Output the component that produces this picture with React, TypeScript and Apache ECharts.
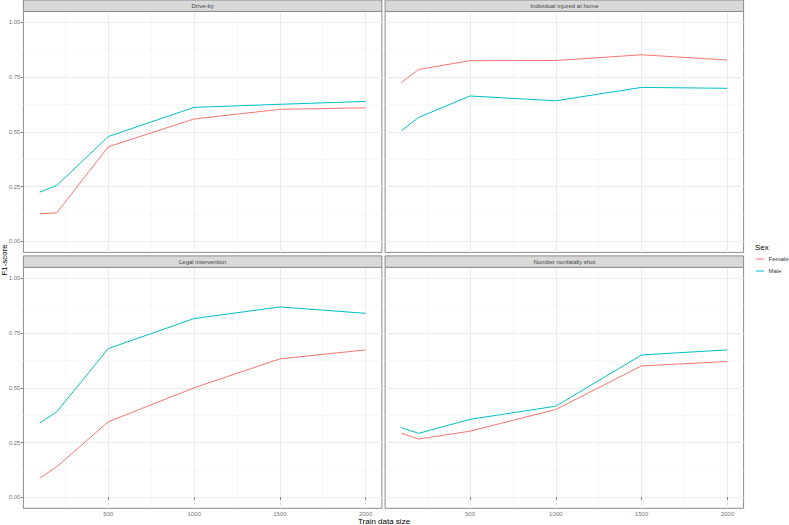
import React, { useEffect, useRef } from "react";
import * as echarts from "echarts";

const trainSizes = [100, 200, 500, 1000, 1500, 2000];
const facets = ["Drive-by", "Individual injured at home", "Legal intervention", "Number nonfatally shot"];
const sexes = ["Female", "Male"];
const sexColors = ["#F8766D", "#00BFC4"];
const driveByFemale = [0.126, 0.131, 0.432, 0.559, 0.603, 0.61];
const driveByMale = [0.225, 0.256, 0.479, 0.612, 0.626, 0.639];
const injuredHomeFemale = [0.725, 0.785, 0.825, 0.826, 0.852, 0.828];
const injuredHomeMale = [0.505, 0.566, 0.664, 0.642, 0.703, 0.699];
const legalFemale = [0.087, 0.14, 0.345, 0.5, 0.632, 0.673];
const legalMale = [0.339, 0.391, 0.679, 0.816, 0.869, 0.84];
const nonfatalFemale = [0.293, 0.266, 0.302, 0.401, 0.6, 0.62];
const nonfatalMale = [0.318, 0.292, 0.356, 0.416, 0.65, 0.673];
const xTicks = [500, 1000, 1500, 2000];
const xMinorTicks = [250, 750, 1250, 1750];
const yTicks = [0, 0.25, 0.5, 0.75, 1];
const yMinorTicks = [0.125, 0.375, 0.625, 0.875];
const xRange = [5, 2095];
const yRange = [-0.05, 1.05];

const panelData = [
  [driveByFemale, driveByMale],
  [injuredHomeFemale, injuredHomeMale],
  [legalFemale, legalMale],
  [nonfatalFemale, nonfatalMale],
];

const FONT = "Liberation Sans, Arial, Helvetica, sans-serif";

export default function App() {
  const ref = useRef<HTMLDivElement>(null);
  useEffect(() => {
    document.body.style.margin = "0";
    if (!ref.current) return;
    const chart = echarts.init(ref.current, null, { renderer: "svg" });
    const lefts = [23.4, 385.1];
    const tops = [11.4, 267.3];
    const W = 358.5;
    const H = 241;
    const stripH = 11.4;

    const grids: any[] = [];
    const xAxes: any[] = [];
    const yAxes: any[] = [];
    const series: any[] = [];
    const graphics: any[] = [];

    for (let i = 0; i < 4; i++) {
      const col = i % 2;
      const row = Math.floor(i / 2);
      const left = lefts[col];
      const top = tops[row];
      grids.push({
        left,
        top,
        width: W,
        height: H,
        show: true,
        backgroundColor: "#ffffff",
        borderColor: "#8a8a8a",
        borderWidth: 1,
        containLabel: false,
      });
      graphics.push({
        type: "rect",
        shape: { x: left, y: top - stripH, width: W, height: stripH },
        style: { fill: "#d9d9d9", stroke: "#8a8a8a", lineWidth: 1 },
        z: 10,
      });
      graphics.push({
        type: "text",
        x: left + W / 2,
        y: top - stripH / 2,
        style: {
          text: facets[i],
          fill: "#444444",
          font: `6px ${FONT}`,
          textAlign: "center",
          textVerticalAlign: "middle",
        },
        z: 11,
      });
    }

    for (let i = 0; i < 4; i++) {
      const col = i % 2;
      const row = Math.floor(i / 2);
      const showX = row === 1;
      const showY = col === 0;
      xAxes.push({
        type: "value",
        gridIndex: i,
        min: xRange[0],
        max: xRange[1],
        axisLine: { show: false },
        axisTick: {
          show: showX,
          customValues: xTicks,
          length: 2.5,
          lineStyle: { color: "#555555", width: 0.8 },
        },
        axisLabel: {
          show: showX,
          customValues: xTicks,
          color: "#777777",
          fontSize: 6,
          fontFamily: FONT,
          margin: 3,
          formatter: (v: number) => String(v),
        },
        splitLine: { show: true, lineStyle: { color: "#ebebeb", width: 1 } },
      });
      yAxes.push({
        type: "value",
        gridIndex: i,
        min: yRange[0],
        max: yRange[1],
        axisLine: { show: false },
        axisTick: {
          show: showY,
          customValues: yTicks,
          length: 2.5,
          lineStyle: { color: "#555555", width: 0.8 },
        },
        axisLabel: {
          show: showY,
          customValues: yTicks,
          color: "#777777",
          fontSize: 6,
          fontFamily: FONT,
          margin: 3,
          formatter: (v: number) => v.toFixed(2),
        },
        splitLine: { show: true, lineStyle: { color: "#ebebeb", width: 1 } },
      });
    }
    for (let i = 0; i < 4; i++) {
      xAxes.push({
        type: "value",
        gridIndex: i,
        min: xRange[0],
        max: xRange[1],
        axisLine: { show: false },
        axisTick: { show: false, customValues: xMinorTicks },
        axisLabel: { show: false, customValues: xMinorTicks },
        splitLine: { show: true, lineStyle: { color: "#f4f4f4", width: 0.6 } },
      });
      yAxes.push({
        type: "value",
        gridIndex: i,
        min: yRange[0],
        max: yRange[1],
        axisLine: { show: false },
        axisTick: { show: false, customValues: yMinorTicks },
        axisLabel: { show: false, customValues: yMinorTicks },
        splitLine: { show: true, lineStyle: { color: "#f4f4f4", width: 0.6 } },
      });
    }

    for (let i = 0; i < 4; i++) {
      for (let s = 0; s < 2; s++) {
        series.push({
          type: "line",
          name: sexes[s],
          xAxisIndex: i,
          yAxisIndex: i,
          showSymbol: false,
          symbol: "none",
          data: trainSizes.map((x, j) => [x, panelData[i][s][j]]),
          lineStyle: { color: sexColors[s], width: 1 },
          itemStyle: { color: sexColors[s] },
          z: 5,
        });
      }
    }

    graphics.push({
      type: "text",
      x: 384,
      y: 521,
      style: {
        text: "Train data size",
        fill: "#000000",
        font: `8px ${FONT}`,
        textAlign: "center",
        textVerticalAlign: "middle",
      },
    });
    graphics.push({
      type: "text",
      x: 4,
      y: 260,
      rotation: Math.PI / 2,
      style: {
        text: "F1-score",
        fill: "#000000",
        font: `8px ${FONT}`,
        textAlign: "center",
        textVerticalAlign: "middle",
      },
    });
    graphics.push({
      type: "text",
      x: 755,
      y: 247,
      style: {
        text: "Sex",
        fill: "#000000",
        font: `8px ${FONT}`,
        textAlign: "left",
        textVerticalAlign: "middle",
      },
    });
    sexes.forEach((name, s) => {
      const y = 259 + s * 12;
      graphics.push({
        type: "line",
        shape: { x1: 756, y1: y, x2: 764, y2: y },
        style: { stroke: sexColors[s], lineWidth: 1 },
      });
      graphics.push({
        type: "text",
        x: 768.5,
        y,
        style: {
          text: name,
          fill: "#333333",
          font: `6px ${FONT}`,
          textAlign: "left",
          textVerticalAlign: "middle",
        },
      });
    });

    chart.setOption({
      animation: false,
      backgroundColor: "#ffffff",
      grid: grids,
      xAxis: xAxes,
      yAxis: yAxes,
      series,
      graphic: graphics,
    });
    return () => chart.dispose();
  }, []);
  return <div ref={ref} style={{ width: 789, height: 525 }} />;
}
